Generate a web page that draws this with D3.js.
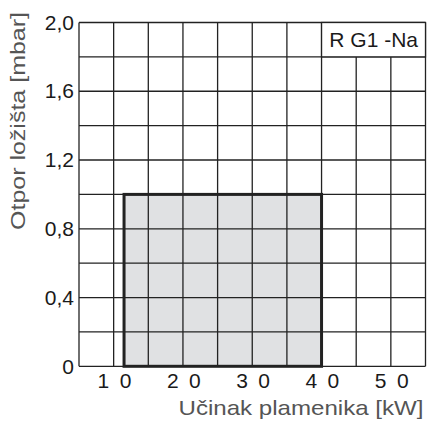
<!DOCTYPE html>
<html>
<head>
<meta charset="utf-8">
<script src="https://cdn.jsdelivr.net/npm/d3@7"></script>
<style>
  body { margin: 0; background: #fff; }
  svg text { font-family: "Liberation Sans", Arial, sans-serif; }
</style>
</head>
<body>
<svg id="chart" width="427" height="421"></svg>
<script>
  // axis ranges and ticks
  var xDomain = [5, 55];
  var yDomain = [0, 2.0];
  var xGrid = [5, 10, 15, 20, 25, 30, 35, 40, 45, 50, 55];
  var yGrid = [0, 0.2, 0.4, 0.6, 0.8, 1.0, 1.2, 1.4, 1.6, 1.8, 2.0];
  var xTicks = [10, 20, 30, 40, 50];
  var xTickLabels = ["1 0", "2 0", "3 0", "4 0", "5 0"];
  var yTicks = [0, 0.4, 0.8, 1.2, 1.6, 2.0];

  // working field of the burner
  var fieldX = [11.5, 40];
  var fieldY = [0, 1.0];

  // label box in top right cell
  var labelX = [40, 55];
  var labelY = [1.8, 2.0];
  var labelText = "R G1 -Na";

  var svg = d3.select("#chart"),
    margin = {top: 22.5, right: 1.5, bottom: 54.7, left: 79},
    width = 427 - margin.left - margin.right,
    height = 421 - margin.top - margin.bottom;

  var g = svg.append("g").attr("transform", "translate(" + margin.left + "," + margin.top + ")");

  var x = d3.scaleLinear().domain(xDomain).range([0, width]);
  var y = d3.scaleLinear().domain(yDomain).range([height, 0]);

  // field fill
  g.append("rect")
    .attr("x", x(fieldX[0]))
    .attr("y", y(fieldY[1]))
    .attr("width", x(fieldX[1]) - x(fieldX[0]))
    .attr("height", y(fieldY[0]) - y(fieldY[1]))
    .attr("fill", "#e0e1e3");

  // grid
  g.append("g").selectAll("line").data(xGrid).enter().append("line")
    .attr("x1", function(d) { return x(d); })
    .attr("x2", function(d) { return x(d); })
    .attr("y1", 0).attr("y2", height)
    .attr("stroke", "#222").attr("stroke-width", 1.3);

  g.append("g").selectAll("line").data(yGrid).enter().append("line")
    .attr("y1", function(d) { return y(d); })
    .attr("y2", function(d) { return y(d); })
    .attr("x1", 0).attr("x2", width)
    .attr("stroke", "#222").attr("stroke-width", 1.3);

  // white label box
  g.append("rect")
    .attr("x", x(labelX[0]))
    .attr("y", y(labelY[1]))
    .attr("width", x(labelX[1]) - x(labelX[0]))
    .attr("height", y(labelY[0]) - y(labelY[1]))
    .attr("fill", "#fff")
    .attr("stroke", "#222")
    .attr("stroke-width", 1.3);

  g.append("text")
    .attr("x", x(labelX[1]) - 7.5)
    .attr("y", (y(labelY[0]) + y(labelY[1])) / 2 + 7)
    .attr("text-anchor", "end")
    .attr("fill", "#1a1a1a")
    .style("font-size", "21px")
    .text(labelText);

  // field outline
  g.append("rect")
    .attr("x", x(fieldX[0]))
    .attr("y", y(fieldY[1]))
    .attr("width", x(fieldX[1]) - x(fieldX[0]))
    .attr("height", y(fieldY[0]) - y(fieldY[1]))
    .attr("fill", "none")
    .attr("stroke", "#222")
    .attr("stroke-width", 3);

  // x axis labels
  var xAxis = g.append("g")
    .attr("transform", "translate(0," + height + ")")
    .call(d3.axisBottom(x)
      .tickValues(xTicks)
      .tickSize(0)
      .tickPadding(0)
      .tickFormat(function(d, i) { return xTickLabels[i]; }));
  xAxis.select(".domain").remove();
  xAxis.selectAll("text")
    .attr("dy", null)
    .attr("y", 21.5)
    .attr("dx", "1.5px")
    .attr("fill", "#1a1a1a")
    .style("font-size", "21px")
    .style("letter-spacing", "2.3px")
    .style("font-family", "'Liberation Sans', Arial, sans-serif");

  // y axis labels
  var yAxis = g.append("g")
    .call(d3.axisLeft(y)
      .tickValues(yTicks)
      .tickSize(0)
      .tickPadding(5)
      .tickFormat(function(d) { return d === 0 ? "0" : d.toFixed(1).replace(".", ","); }));
  yAxis.select(".domain").remove();
  yAxis.selectAll("text")
    .attr("fill", "#1a1a1a")
    .style("font-size", "21px")
    .style("font-family", "'Liberation Sans', Arial, sans-serif");

  // axis titles
  svg.append("text")
    .attr("x", 423.5)
    .attr("y", 415)
    .attr("text-anchor", "end")
    .attr("fill", "#555")
    .attr("textLength", 245)
    .attr("lengthAdjust", "spacingAndGlyphs")
    .style("font-size", "21px")
    .text("Učinak plamenika [kW]");

  svg.append("text")
    .attr("transform", "translate(24.5,121) rotate(-90)")
    .attr("text-anchor", "middle")
    .attr("fill", "#555")
    .attr("textLength", 218)
    .attr("lengthAdjust", "spacingAndGlyphs")
    .style("font-size", "21px")
    .text("Otpor ložišta [mbar]");
</script>
</body>
</html>
